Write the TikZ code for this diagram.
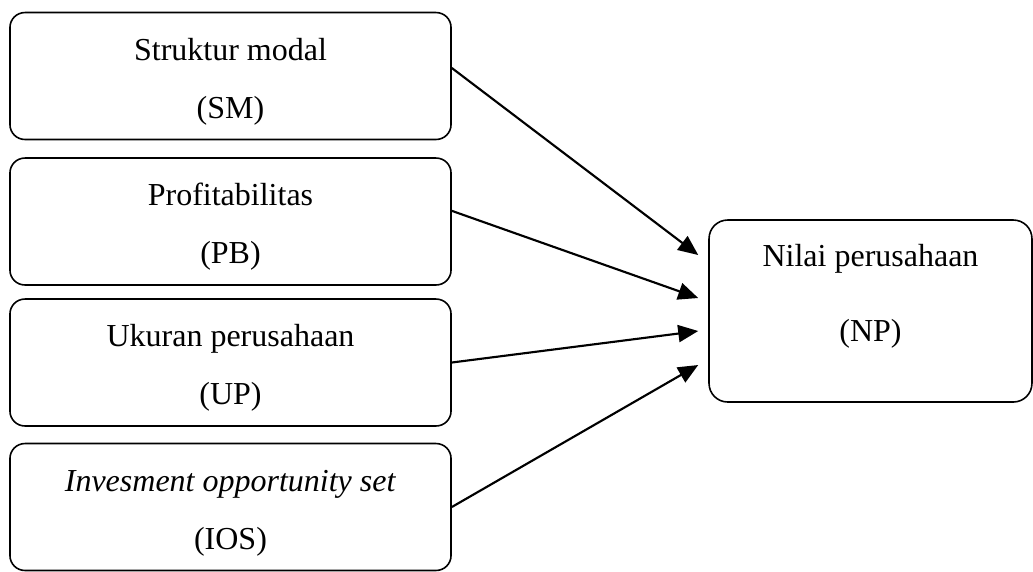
\documentclass[tikz,border=0pt]{standalone}
\usepackage{fontspec}
\setmainfont{Liberation Serif}
\usetikzlibrary{arrows.meta,positioning,calc}
\newcommand{\topgap}{\rule{0pt}{12.5pt}}

\begin{document}
\begin{tikzpicture}[
    x=0.375pt, y=-0.375pt,
    varbox/.style={draw, line width=0.6pt, rounded corners=5.6pt, minimum width=165.4pt, minimum height=47.6pt, align=center, font=\fontsize{12}{21.75}\selectfont},
    npbox/.style={draw, line width=0.6pt, rounded corners=7pt, minimum width=121.1pt, minimum height=68.25pt, align=center, font=\fontsize{12}{21.75}\selectfont},
    link/.style={line width=0.8pt, -{Triangle[length=7.5pt, width=6.4pt]}},
]
\useasboundingbox (0,0) rectangle (1033,571);

\node[varbox] (sm)  at (230.5,76)    {\topgap Struktur modal\\(SM)};
\node[varbox] (pb)  at (230.5,221.5) {\topgap Profitabilitas\\(PB)};
\node[varbox] (up)  at (230.5,362.5) {\topgap Ukuran perusahaan\\(UP)};
\node[varbox] (ios) at (230.5,507)   {\topgap\textit{Invesment opportunity set}\\(IOS)};
\node[npbox]  (np)  at (870.5,311)   {Nilai perusahaan\\[6.4pt](NP)\\[-8.5pt]};

\coordinate (inSM)  at ($(np.west)+(-10,-56)$);
\coordinate (inPB)  at ($(np.west)+(-10,-13)$);
\coordinate (inUP)  at ($(np.west)+(-10,20)$);
\coordinate (inIOS) at ($(np.west)+(-10,54)$);

\draw[link] ([yshift=3pt]sm.east) -- (inSM);
\draw[link] ([yshift=4pt]pb.east) -- (inPB);
\draw[link] (up.east) -- (inUP);
\draw[link] (ios.east) -- (inIOS);
\end{tikzpicture}
\end{document}
